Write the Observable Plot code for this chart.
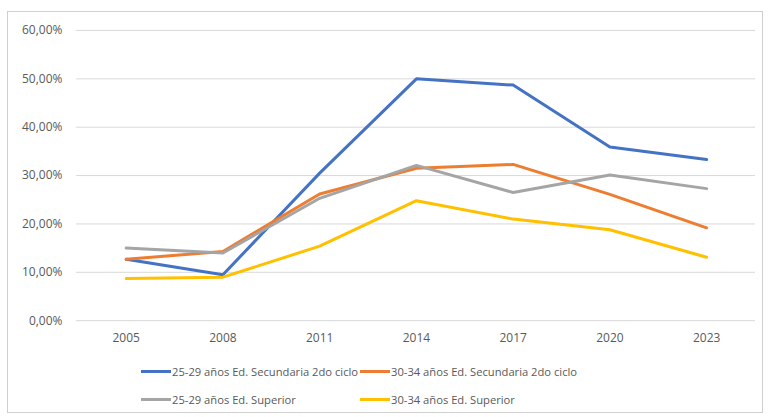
<!DOCTYPE html>
<html>
<head>
<meta charset="utf-8">
<script src="https://cdn.jsdelivr.net/npm/d3@7"></script>
<script src="https://cdn.jsdelivr.net/npm/@observablehq/plot@0.6"></script>
<style>
  body { margin: 0; background: #fff; font-family: "Open Sans", sans-serif; }
  #frame { position: absolute; left: 7px; top: 11px; width: 756px; height: 402px; border: 1px solid #d0d0d0; box-sizing: border-box; background: #fff; }
  #legend { position: absolute; left: 0; top: 345px; width: 756px; font-size: 11.2px; color: #595959; }
  .row { position: relative; height: 28px; }
  .item { position: absolute; display: flex; align-items: center; white-space: nowrap; }
  .sw { width: 30px; height: 3px; margin-right: 1px; }
</style>
</head>
<body>
<div id="frame"><div id="chart"></div><div id="legend"></div></div>
<script>
const years = ["2005", "2008", "2011", "2014", "2017", "2020", "2023"];
const seriesNames = [
  "25-29 años Ed. Secundaria 2do ciclo",
  "30-34 años Ed. Secundaria 2do ciclo",
  "25-29 años Ed. Superior",
  "30-34 años Ed. Superior"
];
const sec2529 = [12.7, 9.5, 30.5, 50.0, 48.7, 35.9, 33.3];
const sec3034 = [12.7, 14.3, 26.2, 31.5, 32.3, 26.1, 19.2];
const sup2529 = [15.0, 14.0, 25.3, 32.1, 26.5, 30.1, 27.3];
const sup3034 = [8.7, 9.0, 15.4, 24.8, 21.0, 18.8, 13.1];
const colors = ["#4472C4", "#ED7D31", "#A5A5A5", "#FFC000"];
const yTicks = [0, 10, 20, 30, 40, 50, 60];

const allSeries = [sec2529, sec3034, sup2529, sup3034];
const data = [];
allSeries.forEach((vals, i) => vals.forEach((v, j) => data.push({ year: years[j], value: v, series: seriesNames[i] })));

const fmt = d => d.toFixed(2).replace(".", ",") + "%";

const chart = Plot.plot({
  width: 756,
  height: 340,
  marginTop: 18,
  marginBottom: 31,
  marginLeft: 68,
  marginRight: 7,
  style: { fontFamily: "Open Sans, sans-serif", fontSize: "12px", color: "#595959", background: "transparent" },
  x: { type: "point", domain: years, padding: 0.5, label: null },
  y: { domain: [0, 60], ticks: yTicks, label: null },
  color: { domain: seriesNames, range: colors },
  marks: [
    Plot.ruleY(yTicks, { stroke: "#d9d9d9", strokeWidth: 1 }),
    Plot.axisY({ ticks: yTicks, tickSize: 0, tickPadding: 14, tickFormat: fmt, label: null }),
    Plot.axisX({ tickSize: 0, tickPadding: 13, label: null }),
    Plot.line(data, { x: "year", y: "value", z: "series", stroke: "series", strokeWidth: 3, strokeLinejoin: "round" })
  ]
});
document.getElementById("chart").appendChild(chart);

const legend = document.getElementById("legend");
const rows = [[0, 1], [2, 3]];
const lefts = [133, 352];
rows.forEach(r => {
  const row = document.createElement("div");
  row.className = "row";
  r.forEach((idx, k) => {
    const it = document.createElement("div");
    it.className = "item";
    it.style.left = lefts[k] + "px";
    it.style.top = "0px";
    it.style.height = "28px";
    const sw = document.createElement("span");
    sw.className = "sw";
    sw.style.background = colors[idx];
    const tx = document.createElement("span");
    tx.textContent = seriesNames[idx];
    it.appendChild(sw); it.appendChild(tx);
    row.appendChild(it);
  });
  legend.appendChild(row);
});
</script>
</body>
</html>
